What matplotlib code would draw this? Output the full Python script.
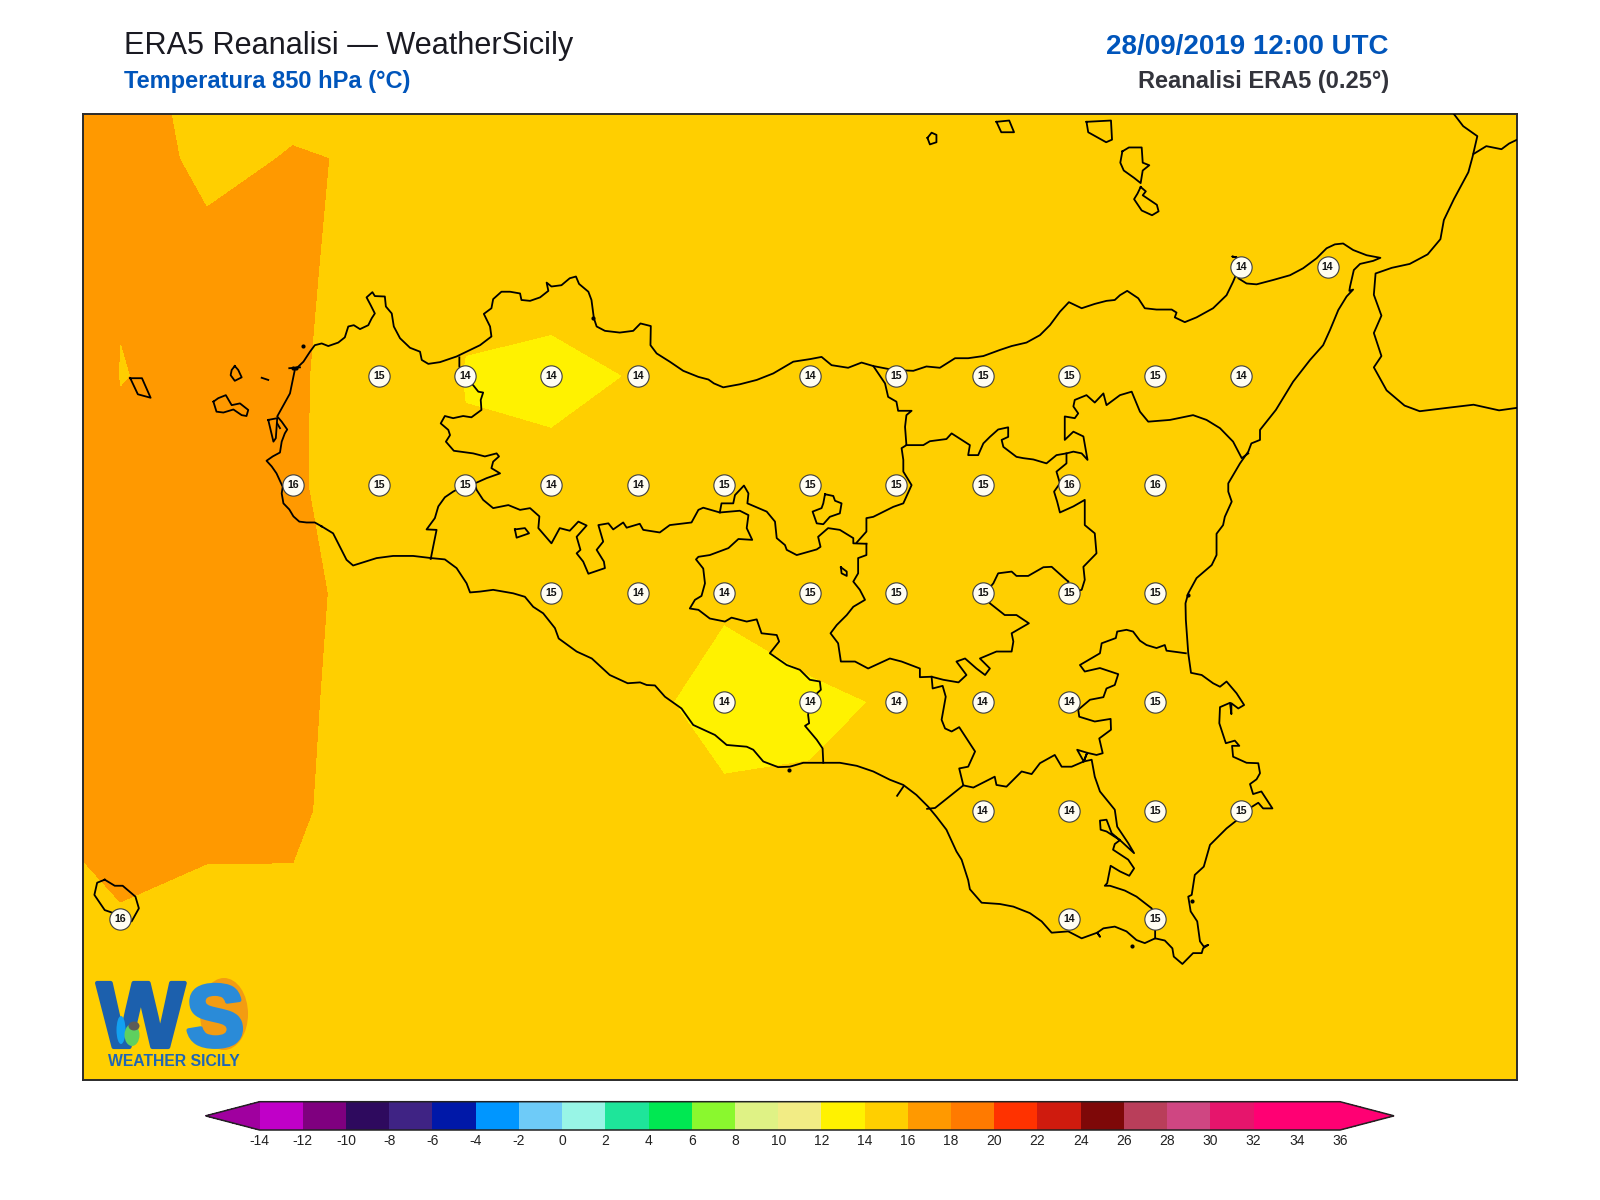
import numpy as np
import matplotlib
matplotlib.use("Agg")
import matplotlib.pyplot as plt
import matplotlib.patheffects as pe
from matplotlib.colors import ListedColormap, BoundaryNorm
from matplotlib.patches import Ellipse

plt.rcParams['font.family'] = ['Liberation Sans', 'DejaVu Sans']
plt.rcParams['axes.unicode_minus'] = False

# colour scale
levels = [-14, -12, -10, -8, -6, -4, -2, 0, 2, 4, 6, 8, 10, 12, 14, 16, 18, 20, 22, 24, 26, 28, 30, 32, 34, 36]
colors = ['#c000c8', '#7f007f', '#2e0a5e', '#3f2384', '#0018a8', '#0096ff', '#6ecbf8', '#98f5e6',
          '#1ee59a', '#00e852', '#8af82e', '#dff285', '#f2ec85', '#fff200', '#ffcf00', '#ff9900',
          '#ff7a00', '#ff3200', '#cf1b0e', '#7e0808', '#b93e5a', '#cf4682', '#e6156c', '#ff0073', '#ff0073']
color_under = '#a0009f'
color_over = '#ff0073'

# temperature field, 0.25 degree grid
grid_lon = [11.75, 12.0, 12.25, 12.5, 12.75, 13.0, 13.25, 13.5, 13.75, 14.0, 14.25, 14.5, 14.75, 15.0, 15.25, 15.5, 15.75, 16.0, 16.25]
grid_lat = [38.75, 38.5, 38.25, 38.0, 37.75, 37.5, 37.25, 37.0, 36.75, 36.5, 36.25]
t850 = [
    [16.6, 16.33, 15.6, 15.63, 15.3, 14.8, 14.7, 14.7, 14.8, 14.8, 14.7, 14.6, 14.6, 14.6, 14.6, 14.6, 14.6, 14.6, 14.6],
    [16.8, 16.465, 15.787, 16.05, 15.93, 15.0, 14.8, 14.7, 14.7, 14.7, 14.7, 14.6, 14.6, 14.6, 14.6, 14.6, 14.6, 14.6, 14.6],
    [16.8, 16.06, 16.26, 16.26, 15.4, 14.216, 14.16, 14.5, 14.6, 14.6, 14.7, 14.7, 14.7, 14.6, 14.4, 14.4, 14.5, 14.6, 14.6],
    [17.2, 15.97, 16.22, 16.145, 15.4, 13.95, 13.9, 14.02, 14.6, 14.5, 14.9, 15.0, 15.0, 14.9, 14.4, 14.4, 14.6, 14.7, 14.7],
    [16.8, 16.24, 16.4, 16.114, 15.47, 14.15, 14.107, 14.4, 14.8, 14.8, 15.0, 15.2, 15.7, 15.7, 15.2, 15.0, 14.9, 14.8, 14.8],
    [16.8, 16.5, 16.6, 16.4, 15.4, 14.6, 14.5, 14.2, 14.04, 14.5, 14.8, 14.9, 15.0, 15.2, 15.0, 14.9, 14.8, 14.8, 14.8],
    [16.7, 16.6, 16.6, 16.27, 15.4, 14.7, 14.4, 14.07, 13.9, 13.84, 14.08, 14.4, 14.4, 14.8, 14.8, 14.7, 14.7, 14.7, 14.7],
    [15.97, 16.6, 16.5, 16.18, 15.4, 14.7, 14.4, 14.2, 14.05, 14.136, 14.4, 14.4, 14.4, 14.8, 14.8, 14.7, 14.7, 14.7, 14.7],
    [15.7, 15.886, 15.48, 15.805, 15.3, 14.9, 14.6, 14.4, 14.4, 14.4, 14.4, 14.4, 14.4, 14.6, 14.7, 14.7, 14.7, 14.7, 14.7],
    [15.4, 15.4, 15.3, 15.2, 15.0, 14.8, 14.6, 14.5, 14.5, 14.5, 14.5, 14.5, 14.5, 14.6, 14.7, 14.7, 14.7, 14.7, 14.7],
    [15.3, 15.3, 15.2, 15.1, 15.0, 14.8, 14.7, 14.6, 14.6, 14.6, 14.6, 14.6, 14.6, 14.7, 14.7, 14.7, 14.7, 14.7, 14.7],
]

# station labels
label_lon = [15.25, 15.5,
             12.75, 13.0, 13.25, 13.5, 14.0, 14.25, 14.5, 14.75, 15.0, 15.25,
             12.5, 12.75, 13.0, 13.25, 13.5, 13.75, 14.0, 14.25, 14.5, 14.75, 15.0,
             13.25, 13.5, 13.75, 14.0, 14.25, 14.5, 14.75, 15.0,
             13.75, 14.0, 14.25, 14.5, 14.75, 15.0,
             14.5, 14.75, 15.0, 15.25,
             12.0, 14.75, 15.0]
label_lat = [38.25, 38.25,
             38.0, 38.0, 38.0, 38.0, 38.0, 38.0, 38.0, 38.0, 38.0, 38.0,
             37.75, 37.75, 37.75, 37.75, 37.75, 37.75, 37.75, 37.75, 37.75, 37.75, 37.75,
             37.5, 37.5, 37.5, 37.5, 37.5, 37.5, 37.5, 37.5,
             37.25, 37.25, 37.25, 37.25, 37.25, 37.25,
             37.0, 37.0, 37.0, 37.0,
             36.75, 36.75, 36.75]
label_val = [14, 14,
             15, 14, 14, 14, 14, 15, 15, 15, 15, 14,
             16, 15, 15, 14, 14, 15, 15, 15, 15, 16, 16,
             15, 14, 14, 15, 15, 15, 15, 15,
             14, 14, 14, 14, 14, 15,
             14, 14, 15, 15,
             16, 14, 15]

# coast of Sicily (lon, lat)
sicily_coast = [
    (12.584, 37.654), (12.564, 37.663), (12.540, 37.663), (12.519, 37.665), (12.502, 37.677), (12.490, 37.693),
    (12.473, 37.707), (12.468, 37.730), (12.471, 37.745), (12.453, 37.776), (12.439, 37.792), (12.424, 37.805),
    (12.442, 37.815), (12.463, 37.824), (12.468, 37.849), (12.477, 37.868), (12.484, 37.877), (12.468, 37.895),
    (12.455, 37.907), (12.473, 37.933), (12.492, 37.960), (12.499, 37.987), (12.506, 38.014), (12.531, 38.033),
    (12.550, 38.056), (12.564, 38.071), (12.584, 38.075), (12.603, 38.069), (12.632, 38.077), (12.651, 38.089),
    (12.661, 38.114), (12.677, 38.117), (12.695, 38.108), (12.719, 38.117), (12.729, 38.133), (12.738, 38.144),
    (12.726, 38.163), (12.714, 38.181), (12.731, 38.193), (12.738, 38.184), (12.767, 38.183), (12.770, 38.160),
    (12.787, 38.144), (12.793, 38.114), (12.811, 38.087), (12.840, 38.065), (12.869, 38.056), (12.874, 38.037),
    (12.893, 38.028), (12.927, 38.032), (12.975, 38.045), (13.004, 38.056), (13.043, 38.071), (13.076, 38.091),
    (13.072, 38.114), (13.054, 38.143), (13.076, 38.156), (13.081, 38.177), (13.105, 38.194), (13.130, 38.194),
    (13.159, 38.190), (13.163, 38.175), (13.188, 38.173), (13.217, 38.181), (13.241, 38.196), (13.236, 38.215),
    (13.250, 38.206), (13.279, 38.209), (13.303, 38.225), (13.321, 38.229), (13.330, 38.212), (13.357, 38.194),
    (13.366, 38.175), (13.373, 38.133), (13.381, 38.114), (13.405, 38.104), (13.448, 38.100), (13.487, 38.104),
    (13.508, 38.121), (13.538, 38.115), (13.537, 38.071), (13.555, 38.052), (13.593, 38.033), (13.632, 38.012),
    (13.676, 37.998), (13.705, 37.992), (13.721, 37.983), (13.748, 37.974), (13.796, 37.981), (13.845, 37.991),
    (13.893, 38.006), (13.951, 38.033), (14.000, 38.039), (14.033, 38.044), (14.062, 38.025), (14.110, 38.019),
    (14.149, 38.031), (14.183, 38.023), (14.241, 38.014), (14.299, 38.012), (14.337, 38.022), (14.376, 38.019),
    (14.420, 38.041), (14.458, 38.041), (14.502, 38.046), (14.550, 38.060), (14.584, 38.069), (14.627, 38.077),
    (14.666, 38.094), (14.695, 38.117), (14.724, 38.148), (14.750, 38.170), (14.787, 38.156), (14.825, 38.166),
    (14.859, 38.173), (14.883, 38.175), (14.898, 38.186), (14.919, 38.196), (14.951, 38.179), (14.970, 38.156),
    (15.004, 38.153), (15.048, 38.153), (15.062, 38.146), (15.057, 38.135), (15.086, 38.124), (15.120, 38.135),
    (15.168, 38.156), (15.207, 38.186), (15.226, 38.217), (15.236, 38.236), (15.241, 38.252), (15.236, 38.273),
    (15.224, 38.275), (15.236, 38.273), (15.241, 38.225), (15.265, 38.213), (15.294, 38.211), (15.342, 38.221),
    (15.391, 38.232), (15.429, 38.248), (15.468, 38.271), (15.497, 38.294), (15.521, 38.303), (15.545, 38.305),
    (15.574, 38.290), (15.613, 38.278), (15.653, 38.272), (15.632, 38.265), (15.594, 38.258), (15.576, 38.244),
    (15.565, 38.206), (15.563, 38.196), (15.574, 38.199), (15.555, 38.183), (15.531, 38.152), (15.507, 38.106),
    (15.487, 38.071), (15.449, 38.037), (15.400, 37.987), (15.350, 37.922), (15.304, 37.876), (15.304, 37.853),
    (15.279, 37.845), (15.270, 37.826), (15.246, 37.799), (15.212, 37.753), (15.212, 37.734), (15.222, 37.711),
    (15.202, 37.676), (15.197, 37.657), (15.178, 37.637), (15.178, 37.588), (15.164, 37.565), (15.120, 37.535),
    (15.096, 37.500), (15.088, 37.477), (15.089, 37.439), (15.096, 37.362), (15.104, 37.317), (15.135, 37.312),
    (15.168, 37.293), (15.188, 37.285), (15.207, 37.297), (15.236, 37.270), (15.258, 37.243), (15.241, 37.235),
    (15.221, 37.247), (15.221, 37.222), (15.217, 37.248), (15.188, 37.238), (15.186, 37.201), (15.205, 37.155),
    (15.231, 37.161), (15.244, 37.149), (15.223, 37.149), (15.226, 37.124), (15.265, 37.110), (15.299, 37.109),
    (15.304, 37.086), (15.294, 37.072), (15.275, 37.061), (15.284, 37.038), (15.308, 37.044), (15.340, 37.005),
    (15.313, 37.005), (15.299, 37.018), (15.279, 37.008), (15.250, 36.986), (15.207, 36.959), (15.178, 36.936),
    (15.159, 36.921), (15.141, 36.871), (15.115, 36.852), (15.106, 36.806), (15.096, 36.802), (15.103, 36.768),
    (15.122, 36.745), (15.130, 36.699), (15.141, 36.687), (15.154, 36.691), (15.139, 36.683), (15.135, 36.672),
    (15.110, 36.672), (15.079, 36.647), (15.054, 36.664), (15.050, 36.683), (15.028, 36.701), (15.000, 36.706),
    (14.970, 36.695), (14.946, 36.702), (14.917, 36.722), (14.883, 36.733), (14.850, 36.729), (14.832, 36.719),
    (14.840, 36.710), (14.832, 36.719), (14.787, 36.706), (14.748, 36.722), (14.700, 36.719), (14.671, 36.745),
    (14.637, 36.764), (14.589, 36.779), (14.550, 36.785), (14.497, 36.788), (14.463, 36.819), (14.458, 36.840),
    (14.439, 36.887), (14.424, 36.906), (14.395, 36.956), (14.366, 36.986), (14.342, 37.009), (14.308, 37.036),
    (14.270, 37.059), (14.231, 37.071), (14.183, 37.090), (14.135, 37.103), (14.086, 37.110), (14.038, 37.110),
    (13.980, 37.110), (13.941, 37.101), (13.907, 37.100), (13.864, 37.113), (13.835, 37.140), (13.816, 37.147),
    (13.758, 37.151), (13.724, 37.174), (13.661, 37.197), (13.627, 37.235), (13.579, 37.262), (13.550, 37.288),
    (13.526, 37.289), (13.507, 37.295), (13.471, 37.293), (13.419, 37.312), (13.367, 37.350), (13.323, 37.366),
    (13.271, 37.396), (13.260, 37.420), (13.226, 37.454), (13.197, 37.469), (13.173, 37.492), (13.139, 37.500),
    (13.081, 37.508), (13.043, 37.504), (13.014, 37.502), (13.004, 37.523), (12.975, 37.558), (12.941, 37.578),
    (12.902, 37.581), (12.849, 37.586), (12.791, 37.586), (12.743, 37.581), (12.675, 37.564), (12.656, 37.577),
    (12.617, 37.638), (12.584, 37.654),
]

# province borders
border_trapani = [
    (12.983, 38.043), (12.983, 38.022), (12.994, 37.999), (13.023, 37.979), (13.038, 37.964), (13.052, 37.962),
    (13.045, 37.945), (13.047, 37.922), (13.018, 37.905), (12.994, 37.908), (12.965, 37.903), (12.941, 37.908),
    (12.929, 37.891), (12.951, 37.876), (12.956, 37.864), (12.944, 37.849), (12.967, 37.828), (13.023, 37.822),
    (13.057, 37.815), (13.091, 37.822), (13.098, 37.815), (13.081, 37.803), (13.076, 37.788), (13.101, 37.776),
    (13.062, 37.765), (13.028, 37.753), (12.999, 37.749), (12.965, 37.734), (12.941, 37.721), (12.922, 37.700),
    (12.912, 37.673), (12.888, 37.647), (12.917, 37.646), (12.907, 37.607), (12.900, 37.579),
]
border_palermo = [
    (13.028, 37.753), (13.033, 37.738), (13.052, 37.715), (13.081, 37.696), (13.125, 37.703), (13.159, 37.692),
    (13.188, 37.696), (13.215, 37.677), (13.212, 37.650), (13.250, 37.615), (13.274, 37.650), (13.303, 37.644),
    (13.328, 37.665), (13.352, 37.656), (13.323, 37.630), (13.334, 37.600), (13.323, 37.592), (13.342, 37.573),
    (13.357, 37.545), (13.405, 37.558), (13.402, 37.573), (13.381, 37.600), (13.400, 37.619), (13.386, 37.657),
    (13.415, 37.661), (13.429, 37.647), (13.458, 37.663), (13.468, 37.651), (13.506, 37.660), (13.516, 37.646),
    (13.564, 37.640), (13.593, 37.657), (13.656, 37.663), (13.676, 37.692), (13.690, 37.697), (13.738, 37.686),
    (13.796, 37.690), (13.821, 37.680), (13.816, 37.650), (13.832, 37.623), (13.792, 37.625), (13.763, 37.604),
    (13.709, 37.588), (13.676, 37.584), (13.669, 37.578), (13.690, 37.557), (13.695, 37.523), (13.685, 37.494),
    (13.666, 37.485), (13.651, 37.465), (13.676, 37.462), (13.709, 37.442), (13.753, 37.435), (13.772, 37.444),
    (13.816, 37.435), (13.845, 37.440), (13.859, 37.408), (13.903, 37.404), (13.910, 37.389), (13.883, 37.362),
    (13.932, 37.335), (13.970, 37.324), (13.999, 37.301), (14.028, 37.297), (14.031, 37.278), (14.009, 37.262),
    (13.999, 37.251), (13.994, 37.220), (13.997, 37.201), (13.985, 37.195), (14.019, 37.163), (14.036, 37.143),
    (14.038, 37.110),
]
border_madonie = [
    (13.738, 37.686), (13.743, 37.707), (13.777, 37.707), (13.782, 37.726), (13.808, 37.748), (13.821, 37.730),
    (13.818, 37.707), (13.874, 37.688), (13.898, 37.665), (13.903, 37.627), (13.927, 37.611), (13.932, 37.600),
    (13.961, 37.588), (14.019, 37.601), (14.030, 37.607), (14.023, 37.630), (14.052, 37.650), (14.086, 37.646),
    (14.125, 37.627), (14.125, 37.615), (14.163, 37.614),
]
border_palermo_east = [
    (14.135, 37.617), (14.163, 37.642), (14.163, 37.673), (14.183, 37.676), (14.241, 37.699), (14.270, 37.707),
    (14.294, 37.749), (14.270, 37.780), (14.270, 37.807), (14.265, 37.834), (14.279, 37.841), (14.275, 37.883),
    (14.279, 37.910), (14.294, 37.920), (14.255, 37.920), (14.250, 37.941), (14.226, 37.952), (14.217, 37.983),
    (14.183, 38.023),
]
border_enna = [
    (14.163, 37.614), (14.163, 37.588), (14.139, 37.581), (14.139, 37.546), (14.125, 37.527), (14.144, 37.508),
    (14.159, 37.485), (14.125, 37.469), (14.106, 37.450), (14.077, 37.427), (14.059, 37.408), (14.081, 37.385),
    (14.089, 37.343), (14.130, 37.343), (14.168, 37.327), (14.231, 37.350), (14.265, 37.343), (14.318, 37.327),
    (14.318, 37.307), (14.352, 37.308), (14.386, 37.301), (14.430, 37.295), (14.453, 37.312), (14.424, 37.343),
    (14.449, 37.350), (14.482, 37.327), (14.507, 37.312), (14.521, 37.327), (14.492, 37.350), (14.540, 37.366),
    (14.584, 37.366), (14.589, 37.389), (14.584, 37.408), (14.634, 37.431), (14.598, 37.450), (14.564, 37.450),
    (14.521, 37.477), (14.507, 37.500), (14.531, 37.523), (14.545, 37.546), (14.584, 37.550), (14.598, 37.540),
    (14.632, 37.540), (14.676, 37.560), (14.700, 37.561), (14.748, 37.527),
]
border_messina = [
    (15.270, 37.822), (15.251, 37.811), (15.226, 37.849), (15.188, 37.880), (15.149, 37.899), (15.110, 37.910),
    (15.043, 37.899), (14.980, 37.895), (14.956, 37.918), (14.932, 37.964), (14.898, 37.956), (14.859, 37.933),
    (14.850, 37.960), (14.825, 37.939), (14.801, 37.956), (14.767, 37.945), (14.763, 37.930), (14.777, 37.914),
    (14.767, 37.903), (14.738, 37.907), (14.738, 37.853), (14.763, 37.872), (14.792, 37.861), (14.804, 37.807),
    (14.787, 37.822), (14.763, 37.826), (14.743, 37.822), (14.714, 37.818), (14.685, 37.799), (14.647, 37.808),
    (14.618, 37.811), (14.598, 37.814), (14.560, 37.837), (14.555, 37.853), (14.574, 37.860), (14.574, 37.882),
    (14.545, 37.877), (14.521, 37.860), (14.502, 37.845), (14.487, 37.818), (14.458, 37.818), (14.463, 37.841),
    (14.410, 37.868), (14.395, 37.855), (14.347, 37.850), (14.328, 37.841), (14.279, 37.841),
]
border_catania = [
    (14.743, 37.822), (14.743, 37.799), (14.714, 37.780), (14.724, 37.753), (14.707, 37.734), (14.716, 37.711),
    (14.724, 37.686), (14.763, 37.700), (14.796, 37.715), (14.796, 37.657), (14.825, 37.638), (14.830, 37.592),
    (14.792, 37.561), (14.796, 37.531), (14.787, 37.508), (14.751, 37.500), (14.748, 37.527),
]
border_siracusa = [
    (15.089, 37.362), (15.052, 37.366), (15.033, 37.368), (15.028, 37.381), (15.004, 37.374), (14.975, 37.381),
    (14.956, 37.391), (14.936, 37.412), (14.917, 37.416), (14.890, 37.412), (14.886, 37.397), (14.845, 37.385),
    (14.840, 37.362), (14.782, 37.335), (14.796, 37.320), (14.840, 37.328), (14.893, 37.314), (14.883, 37.289),
    (14.859, 37.281), (14.850, 37.261), (14.811, 37.255), (14.777, 37.232), (14.780, 37.216), (14.825, 37.205),
    (14.871, 37.211), (14.872, 37.186), (14.838, 37.166), (14.848, 37.132), (14.830, 37.128), (14.803, 37.133),
    (14.793, 37.113), (14.774, 37.140), (14.803, 37.133), (14.793, 37.113), (14.758, 37.101), (14.729, 37.101),
    (14.709, 37.128), (14.666, 37.109), (14.642, 37.084), (14.613, 37.090), (14.569, 37.055), (14.540, 37.059),
    (14.535, 37.078), (14.473, 37.053), (14.444, 37.058),
]
border_gela = [
    (14.352, 37.308), (14.355, 37.281), (14.384, 37.287), (14.393, 37.262), (14.381, 37.209), (14.391, 37.189),
    (14.410, 37.182), (14.432, 37.192), (14.478, 37.136), (14.458, 37.101), (14.432, 37.097), (14.444, 37.058),
    (14.362, 37.006), (14.339, 37.004),
]
border_ragusa = [
    (14.793, 37.113), (14.816, 37.117), (14.825, 37.078), (14.840, 37.044), (14.883, 37.002), (14.890, 36.963), (14.922, 36.925),
    (14.939, 36.902), (14.898, 36.932), (14.859, 36.952), (14.842, 36.956), (14.840, 36.977), (14.859, 36.979),
    (14.874, 36.948), (14.898, 36.932), (14.883, 36.923), (14.878, 36.910), (14.922, 36.887), (14.939, 36.867),
    (14.925, 36.850), (14.898, 36.860), (14.871, 36.873), (14.861, 36.833), (14.854, 36.827), (14.869, 36.827),
    (14.912, 36.816), (14.946, 36.802), (14.990, 36.775), (15.000, 36.748), (15.000, 36.706),
]
border_stub = [(14.270, 37.055), (14.252, 37.034)]

# enclaves and lakes
enclave_polizzi = [(14.043, 37.728), (14.067, 37.724), (14.072, 37.713), (14.091, 37.707), (14.086, 37.684), (14.057, 37.676),
                   (14.038, 37.659), (14.019, 37.661), (14.007, 37.688), (14.033, 37.696), (14.038, 37.707), (14.043, 37.728)]
enclave_pergusa = [(14.089, 37.560), (14.106, 37.550), (14.106, 37.540), (14.091, 37.546), (14.089, 37.560)]
enclave_west = [(13.144, 37.647), (13.173, 37.650), (13.185, 37.638), (13.149, 37.628), (13.144, 37.647)]
stagnone = [(12.429, 37.899), (12.444, 37.849), (12.451, 37.857), (12.455, 37.903), (12.429, 37.899)]
stagnone_inner = [(12.455, 37.891), (12.463, 37.880)]
trapani_harbour = [(12.490, 38.018), (12.521, 38.020)]
small_isle = [(12.410, 37.996), (12.429, 37.991)]

# tiny rocks and harbour blobs
dot_lon = [12.529, 14.934, 15.107, 13.371, 15.096, 13.939, 12.500, 12.510]
dot_lat = [38.068, 36.689, 36.793, 38.133, 37.496, 37.094, 38.018, 38.019]

# islands
levanzo = [(12.332, 38.023), (12.342, 38.014), (12.352, 37.997), (12.332, 37.989), (12.320, 38.002), (12.323, 38.014), (12.332, 38.023)]
favignana = [(12.270, 37.941), (12.284, 37.949), (12.306, 37.956), (12.323, 37.933), (12.347, 37.937), (12.371, 37.922),
             (12.366, 37.908), (12.352, 37.910), (12.328, 37.923), (12.299, 37.916), (12.279, 37.918), (12.270, 37.941)]
marettimo = [(12.029, 37.995), (12.063, 37.995), (12.088, 37.950), (12.051, 37.958), (12.029, 37.995)]
pantelleria = [(11.955, 36.841), (11.933, 36.834), (11.925, 36.806), (11.955, 36.771), (11.977, 36.765), (12.033, 36.745),
               (12.054, 36.775), (12.044, 36.802), (12.007, 36.827), (11.984, 36.827), (11.955, 36.841)]
alicudi = [(14.340, 38.548), (14.352, 38.560), (14.366, 38.555), (14.366, 38.538), (14.347, 38.533), (14.340, 38.548)]
filicudi = [(14.540, 38.585), (14.577, 38.588), (14.591, 38.561), (14.554, 38.561), (14.540, 38.585)]
salina = [(14.801, 38.585), (14.872, 38.588), (14.875, 38.544), (14.858, 38.538), (14.806, 38.561), (14.801, 38.585)]
lipari = [(14.905, 38.517), (14.924, 38.526), (14.961, 38.526), (14.964, 38.491), (14.983, 38.485), (14.964, 38.473),
          (14.958, 38.444), (14.939, 38.456), (14.909, 38.473), (14.899, 38.491), (14.905, 38.517)]
vulcano = [(14.958, 38.435), (14.973, 38.425), (14.964, 38.416), (15.005, 38.394), (15.010, 38.379), (14.991, 38.370),
           (14.961, 38.381), (14.939, 38.407), (14.949, 38.420), (14.958, 38.435)]

# Calabria
calabria_coast = [
    (15.866, 38.603), (15.893, 38.575), (15.934, 38.552), (15.920, 38.504), (15.908, 38.469), (15.866, 38.407),
    (15.837, 38.359), (15.827, 38.315), (15.790, 38.280), (15.738, 38.258), (15.686, 38.249), (15.639, 38.236),
    (15.634, 38.187), (15.656, 38.139), (15.634, 38.099), (15.656, 38.046), (15.634, 38.020), (15.671, 37.967),
    (15.723, 37.932), (15.767, 37.919), (15.849, 37.927), (15.923, 37.934), (15.997, 37.921), (16.060, 37.928),
]
calabria_border = [(15.923, 38.511), (15.960, 38.529), (16.004, 38.522), (16.026, 38.535), (16.060, 38.548)]

map_lines = [sicily_coast, border_trapani, border_palermo, border_madonie, border_palermo_east, border_enna,
             border_messina, border_catania, border_siracusa, border_gela, border_ragusa, border_stub,
             enclave_polizzi, enclave_pergusa, enclave_west, stagnone, stagnone_inner,
             trapani_harbour, small_isle, levanzo, favignana, marettimo, pantelleria, alicudi, filicudi,
             salina, lipari, vulcano, calabria_coast, calabria_border]

fig = plt.figure(figsize=(16, 12), dpi=100)
W, H = 1600.0, 1200.0

ax = fig.add_axes([83 / W, 1 - 1080 / H, 1434 / W, 966 / H])
cmap = ListedColormap(colors)
cmap.set_under(color_under)
cmap.set_over(color_over)
norm = BoundaryNorm(levels, cmap.N)

cs = ax.contourf(grid_lon, grid_lat, t850, levels=levels, cmap=cmap, norm=norm, extend='both', antialiased=False)

for line in map_lines:
    xs, ys = zip(*line)
    ax.plot(xs, ys, color='black', lw=1.3, solid_joinstyle='round', zorder=3)
ax.plot(dot_lon, dot_lat, ls='none', marker='o', ms=3, color='black', mew=0, zorder=3)

ax.scatter(label_lon, label_lat, s=235, facecolor='#fffdf2', edgecolor='#3d3d3d', linewidth=0.8, zorder=4)
for lo, la, v in zip(label_lon, label_lat, label_val):
    ax.text(lo, la, str(v), ha='center', va='center', fontsize=7.6, fontweight='bold', color='#111111', zorder=5)

ax.set_xlim(11.892, 16.049)
ax.set_ylim(36.380, 38.603)
ax.set_xticks([])
ax.set_yticks([])
for s in ax.spines.values():
    s.set_linewidth(1.4)
    s.set_color('#2b2b2b')

# colorbar
cax = fig.add_axes([205.6 / W, 1 - 1130 / H, 1188.4 / W, 28.3 / H])
cb = fig.colorbar(cs, cax=cax, orientation='horizontal', ticks=levels, extendfrac=0.05)
cb.ax.tick_params(length=0, pad=3, labelsize=10, labelcolor='#222222')
cb.outline.set_linewidth(1.1)
cb.outline.set_edgecolor('#222222')

# titles
fig.text(124 / W, 1 - 53.6 / H, 'ERA5 Reanalisi \u2014 WeatherSicily', fontsize=22.1, color='#1a1a22', va='baseline')
fig.text(124 / W, 1 - 88 / H, 'Temperatura 850 hPa (\u00b0C)', fontsize=17, fontweight='bold', color='#0055bb', va='baseline')
fig.text(1389 / W, 1 - 53.6 / H, '28/09/2019 12:00 UTC', fontsize=20, fontweight='bold', color='#0055bb', va='baseline', ha='right')
fig.text(1389 / W, 1 - 88 / H, 'Reanalisi ERA5 (0.25\u00b0)', fontsize=17, fontweight='bold', color='#33343c', va='baseline', ha='right')

# logo, bottom left of the map
thick_w = [pe.withStroke(linewidth=3, foreground='#1c60ad')]
thick_s = [pe.withStroke(linewidth=3, foreground='#2a8bd8')]
fig.add_artist(Ellipse((224 / W, 1 - 1014 / H), 48 / W, 72 / H, facecolor='#f39c12', edgecolor='none', zorder=2))
fig.text(97 / W, 1 - 1047 / H, 'W', fontsize=67, fontweight='bold', color='#1c60ad', va='baseline', zorder=3, path_effects=thick_w)
fig.text(186 / W, 1 - 1046 / H, 'S', fontsize=63, fontweight='bold', color='#2a8bd8', va='baseline', zorder=3, path_effects=thick_s)
fig.add_artist(Ellipse((121 / W, 1 - 1030 / H), 9 / W, 28 / H, facecolor='#12a0f0', edgecolor='none', zorder=4))
fig.add_artist(Ellipse((132 / W, 1 - 1035 / H), 15 / W, 22 / H, facecolor='#5fd05f', edgecolor='none', zorder=4))
fig.add_artist(Ellipse((134 / W, 1 - 1026 / H), 11 / W, 9 / H, facecolor='#5c5c58', edgecolor='none', zorder=4))
fig.text(108 / W, 1 - 1066 / H, 'WEATHER SICILY', fontsize=11.3, fontweight='bold', color='#1f66b5', va='baseline', zorder=3)

fig.savefig('out.png', dpi=100, facecolor='white')
